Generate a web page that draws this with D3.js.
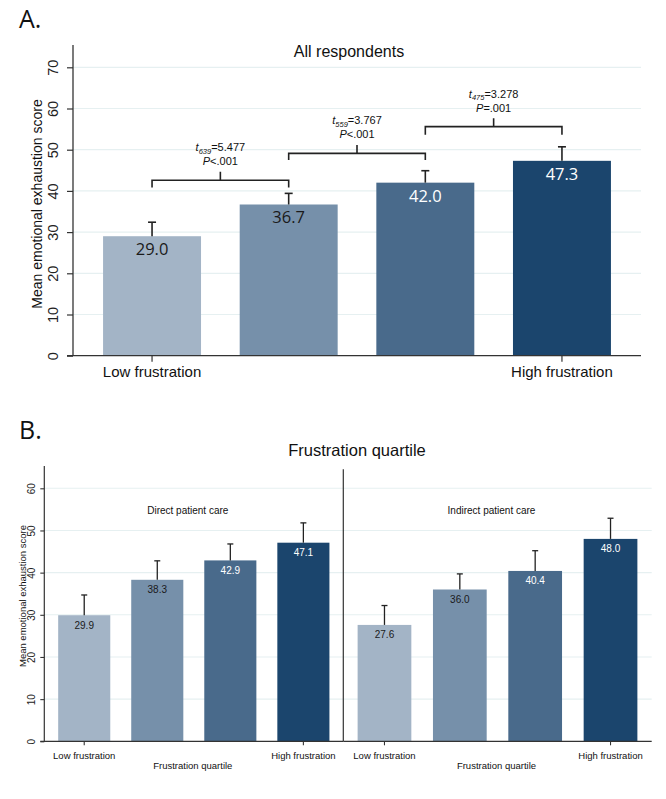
<!DOCTYPE html>
<html>
<head>
<meta charset="utf-8">
<script src="https://cdn.jsdelivr.net/npm/d3@7"></script>
<style>
  html, body { margin: 0; padding: 0; background: #fff; }
  svg { display: block; }
</style>
</head>
<body>
<svg id="chart" width="666" height="799"></svg>
<script>
// ---------- DATA ----------
const quartiles = ["Q1", "Q2", "Q3", "Q4"];
const quartileEndLabels = ["Low frustration", "High frustration"];
const barColors = ["#a3b4c6", "#7690aa", "#496a8b", "#1b456d"];
const labelColors = ["#1a1a1a", "#1a1a1a", "#ffffff", "#ffffff"];

// Panel A: all respondents
const allMeans = [29.0, 36.7, 42.0, 47.3];
const allUpper = [32.4, 39.4, 44.9, 50.7];
const yTicksA = [0, 10, 20, 30, 40, 50, 60, 70];

// Pairwise comparisons (between adjacent quartiles)
const compFrom = [0, 1, 2];
const compTo = [1, 2, 3];
const compDf = ["639", "559", "475"];
const compT = ["5.477", "3.767", "3.278"];
const compP = ["<.001", "<.001", "=.001"];
const compLevel = [42.6, 49.1, 55.6];
const compLegEnd = [40.8, 47.5, 53.6];

// Panel B: by care type
const careTypes = ["Direct patient care", "Indirect patient care"];
const directMeans = [29.9, 38.3, 42.9, 47.1];
const directUpper = [34.7, 42.8, 46.8, 51.8];
const indirectMeans = [27.6, 36.0, 40.4, 48.0];
const indirectUpper = [32.2, 39.7, 45.2, 52.9];
const yTicksB = [0, 10, 20, 30, 40, 50, 60];

// ---------- DRAW ----------
const svg = d3.select("#chart");
const sans = "'Liberation Sans', Arial, sans-serif";
const humanist = "'Open Sans', 'Noto Sans', sans-serif";
const gridColor = "#e6f0f1";
const axisColor = "#333";

// ===== Panel A =====
(function panelA() {
  const x0 = 73, x1 = 641, yTop = 45, yBot = 355.7;
  const y = d3.scaleLinear().domain([0, 70]).range([yBot, yBot - 288.4]);
  const x = d3.scaleBand().domain(quartiles).range([x0, x1]).paddingInner(0.283).paddingOuter(0.22);
  const g = svg.append("g");

  svg.append("text").attr("x", 19).attr("y", 28).text("A.")
    .style("font-family", humanist).style("font-size", "25px").attr("fill", "#111");

  // gridlines
  g.selectAll(".grid").data(yTicksA.filter(d => d > 0)).join("line")
    .attr("x1", x0).attr("x2", x1).attr("y1", d => y(d)).attr("y2", d => y(d))
    .attr("stroke", gridColor).attr("stroke-width", 1.2);

  // bars
  g.selectAll(".bar").data(allMeans).join("rect")
    .attr("x", (d, i) => x(quartiles[i])).attr("width", x.bandwidth())
    .attr("y", d => y(d)).attr("height", d => yBot - y(d))
    .attr("fill", (d, i) => barColors[i]);

  // error bars
  const eb = g.selectAll(".eb").data(allUpper).join("g");
  eb.append("line")
    .attr("x1", (d, i) => x(quartiles[i]) + x.bandwidth() / 2)
    .attr("x2", (d, i) => x(quartiles[i]) + x.bandwidth() / 2)
    .attr("y1", (d, i) => y(allMeans[i])).attr("y2", d => y(d))
    .attr("stroke", "#222").attr("stroke-width", 1.6);
  eb.append("line")
    .attr("x1", (d, i) => x(quartiles[i]) + x.bandwidth() / 2 - 4)
    .attr("x2", (d, i) => x(quartiles[i]) + x.bandwidth() / 2 + 4)
    .attr("y1", d => y(d)).attr("y2", d => y(d))
    .attr("stroke", "#222").attr("stroke-width", 1.6);

  // value labels
  g.selectAll(".vl").data(allMeans).join("text")
    .attr("x", (d, i) => x(quartiles[i]) + x.bandwidth() / 2)
    .attr("y", d => y(d) + 19)
    .attr("text-anchor", "middle")
    .style("font-family", humanist).style("font-size", "16.5px")
    .attr("fill", (d, i) => labelColors[i])
    .text(d => d.toFixed(1));

  // axes
  g.append("line").attr("x1", x0).attr("x2", x0).attr("y1", yTop).attr("y2", yBot)
    .attr("stroke", axisColor).attr("stroke-width", 1.3);
  g.append("line").attr("x1", x0 - 6).attr("x2", x1).attr("y1", yBot).attr("y2", yBot)
    .attr("stroke", axisColor).attr("stroke-width", 1.3);
  const yAxis = d3.axisLeft(y).tickValues(yTicksA).tickSize(6).tickFormat(d3.format("d"));
  const ya = g.append("g").attr("transform", `translate(${x0},0)`).call(yAxis);
  ya.select(".domain").remove();
  ya.selectAll(".tick line").attr("stroke", axisColor).attr("stroke-width", 1.2);
  ya.selectAll(".tick text")
    .attr("x", 0).attr("dy", 0)
    .attr("transform", "translate(-15,0) rotate(-90)")
    .attr("text-anchor", "middle")
    .style("font-family", sans).style("font-size", "14.5px").attr("fill", "#222");

  // x ticks & labels
  const ends = [quartiles[0], quartiles[3]];
  g.selectAll(".xt").data(ends).join("line")
    .attr("x1", d => x(d) + x.bandwidth() / 2).attr("x2", d => x(d) + x.bandwidth() / 2)
    .attr("y1", yBot).attr("y2", yBot + 6).attr("stroke", axisColor).attr("stroke-width", 1.2);
  g.selectAll(".xl").data(ends).join("text")
    .attr("x", d => x(d) + x.bandwidth() / 2).attr("y", yBot + 21)
    .attr("text-anchor", "middle")
    .style("font-family", sans).style("font-size", "15px").attr("fill", "#111")
    .text((d, i) => quartileEndLabels[i]);

  // y title
  g.append("text")
    .attr("transform", `translate(42,204) rotate(-90)`)
    .attr("text-anchor", "middle")
    .style("font-family", sans).style("font-size", "14px").attr("fill", "#111")
    .text("Mean emotional exhaustion score");

  // title
  g.append("text").attr("x", 349).attr("y", 57).attr("text-anchor", "middle")
    .style("font-family", sans).style("font-size", "16px").attr("fill", "#111")
    .text("All respondents");

  // comparison brackets
  compFrom.forEach((a, k) => {
    const b = compTo[k];
    const xa = x(quartiles[a]) + x.bandwidth() / 2;
    const xb = x(quartiles[b]) + x.bandwidth() / 2;
    const yl = y(compLevel[k]);
    const yLeg = y(compLegEnd[k]);
    const xm = (xa + xb) / 2;
    g.append("path")
      .attr("d", `M${xa},${yLeg}V${yl}H${xb}V${yLeg}M${xm},${yl}V${yl - 8.5}`)
      .attr("fill", "none").attr("stroke", "#222").attr("stroke-width", 1.6);
    const t1 = g.append("text").attr("x", xm).attr("y", yl - 29).attr("text-anchor", "middle")
      .style("font-family", sans).style("font-size", "11px").attr("fill", "#111");
    t1.append("tspan").style("font-style", "italic").text("t");
    t1.append("tspan").style("font-style", "italic").style("font-size", "7.5px").attr("dy", 2.5).text(compDf[k]);
    t1.append("tspan").attr("dy", -2.5).text("=" + compT[k]);
    const t2 = g.append("text").attr("x", xm).attr("y", yl - 15).attr("text-anchor", "middle")
      .style("font-family", sans).style("font-size", "11px").attr("fill", "#111");
    t2.append("tspan").style("font-style", "italic").text("P");
    t2.append("tspan").text(compP[k]);
  });
})();

// ===== Panel B =====
(function panelB() {
  const yBot = 741.3, yTop = 466;
  const y = d3.scaleLinear().domain([0, 60]).range([yBot, yBot - 253]);
  const divX = 343.3;
  const panels = [
    { x0: 44.3, x1: divX, means: directMeans, upper: directUpper, name: careTypes[0] },
    { x0: divX, x1: 651.7, means: indirectMeans, upper: indirectUpper, name: careTypes[1] }
  ];

  svg.append("text").attr("x", 19).attr("y", 439).text("B.")
    .style("font-family", humanist).style("font-size", "25px").attr("fill", "#111");

  svg.append("text").attr("x", 357).attr("y", 456).attr("text-anchor", "middle")
    .style("font-family", sans).style("font-size", "16.5px").attr("fill", "#111")
    .text("Frustration quartile");

  panels.forEach((p, pi) => {
    const g = svg.append("g");
    const x = d3.scaleBand().domain(quartiles).range([p.x0, p.x1]).paddingInner(0.287).paddingOuter(0.19);

    g.selectAll(".grid").data(yTicksB.filter(d => d > 0)).join("line")
      .attr("x1", p.x0).attr("x2", p.x1).attr("y1", d => y(d)).attr("y2", d => y(d))
      .attr("stroke", gridColor).attr("stroke-width", 1.1);

    g.selectAll(".bar").data(p.means).join("rect")
      .attr("x", (d, i) => x(quartiles[i])).attr("width", x.bandwidth())
      .attr("y", d => y(d)).attr("height", d => yBot - y(d))
      .attr("fill", (d, i) => barColors[i]);

    const eb = g.selectAll(".eb").data(p.upper).join("g");
    eb.append("line")
      .attr("x1", (d, i) => x(quartiles[i]) + x.bandwidth() / 2)
      .attr("x2", (d, i) => x(quartiles[i]) + x.bandwidth() / 2)
      .attr("y1", (d, i) => y(p.means[i])).attr("y2", d => y(d))
      .attr("stroke", "#222").attr("stroke-width", 1.3);
    eb.append("line")
      .attr("x1", (d, i) => x(quartiles[i]) + x.bandwidth() / 2 - 3)
      .attr("x2", (d, i) => x(quartiles[i]) + x.bandwidth() / 2 + 3)
      .attr("y1", d => y(d)).attr("y2", d => y(d))
      .attr("stroke", "#222").attr("stroke-width", 1.3);

    g.selectAll(".vl").data(p.means).join("text")
      .attr("x", (d, i) => x(quartiles[i]) + x.bandwidth() / 2)
      .attr("y", d => y(d) + 13.5)
      .attr("text-anchor", "middle")
      .style("font-family", sans).style("font-size", "10px")
      .attr("fill", (d, i) => labelColors[i])
      .text(d => d.toFixed(1));

    g.append("text").attr("x", (p.x0 + p.x1) / 2 - 6).attr("y", 514).attr("text-anchor", "middle")
      .style("font-family", sans).style("font-size", "10px").attr("fill", "#111")
      .text(p.name);

    // x axis line
    g.append("line").attr("x1", pi === 0 ? p.x0 - 4 : p.x0).attr("x2", p.x1).attr("y1", yBot).attr("y2", yBot)
      .attr("stroke", axisColor).attr("stroke-width", 1.2);

    const ends = [quartiles[0], quartiles[3]];
    g.selectAll(".xt").data(ends).join("line")
      .attr("x1", d => x(d) + x.bandwidth() / 2).attr("x2", d => x(d) + x.bandwidth() / 2)
      .attr("y1", yBot).attr("y2", yBot + 4).attr("stroke", axisColor).attr("stroke-width", 1.1);
    g.selectAll(".xl").data(ends).join("text")
      .attr("x", d => x(d) + x.bandwidth() / 2).attr("y", yBot + 18)
      .attr("text-anchor", "middle")
      .style("font-family", sans).style("font-size", "9.5px").attr("fill", "#111")
      .text((d, i) => quartileEndLabels[i]);
    g.append("text").attr("x", (p.x0 + p.x1) / 2 - 1).attr("y", yBot + 28)
      .attr("text-anchor", "middle")
      .style("font-family", sans).style("font-size", "9.5px").attr("fill", "#111")
      .text("Frustration quartile");

    if (pi === 0) {
      g.append("line").attr("x1", p.x0).attr("x2", p.x0).attr("y1", yTop).attr("y2", yBot)
        .attr("stroke", axisColor).attr("stroke-width", 1.2);
      const ya = g.append("g").attr("transform", `translate(${p.x0},0)`)
        .call(d3.axisLeft(y).tickValues(yTicksB).tickSize(4).tickFormat(d3.format("d")));
      ya.select(".domain").remove();
      ya.selectAll(".tick line").attr("stroke", axisColor).attr("stroke-width", 1.1);
      ya.selectAll(".tick text")
        .attr("x", 0).attr("dy", 0)
        .attr("transform", "translate(-9,0) rotate(-90)")
        .attr("text-anchor", "middle")
        .style("font-family", sans).style("font-size", "10px").attr("fill", "#222");
      g.append("text")
        .attr("transform", `translate(26,596) rotate(-90)`)
        .attr("text-anchor", "middle")
        .style("font-family", sans).style("font-size", "9.5px").attr("fill", "#111")
        .text("Mean emotional exhaustion score");
    } else {
      g.append("line").attr("x1", p.x0).attr("x2", p.x0).attr("y1", 469.3).attr("y2", yBot)
        .attr("stroke", axisColor).attr("stroke-width", 1.2);
    }
  });
})();
</script>
</body>
</html>
